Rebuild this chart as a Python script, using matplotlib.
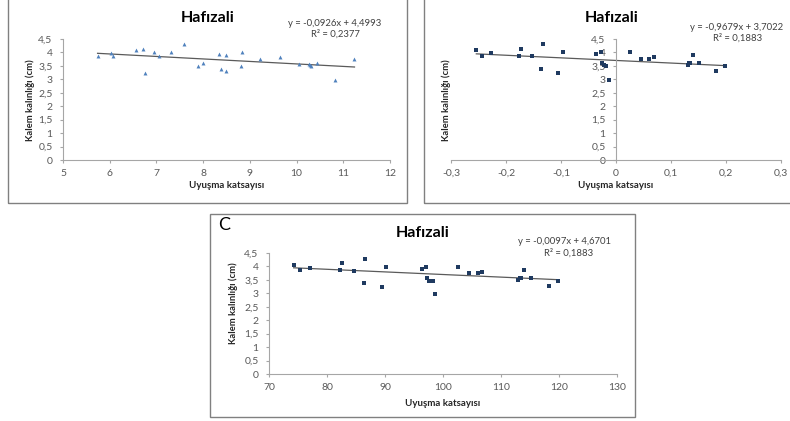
import numpy as np
import matplotlib
matplotlib.use('Agg')
import matplotlib.pyplot as plt
from matplotlib.patches import Rectangle
from matplotlib.ticker import FuncFormatter

plt.rcParams['font.family'] = ['Lato', 'DejaVu Sans']

# Panel A: Uyuşma katsayısı 5..12
a_x = [5.74, 6.02, 6.06, 6.57, 6.71, 6.75, 6.94, 7.06, 7.32, 7.59, 7.90, 7.99, 8.33, 8.39,
       8.48, 8.50, 8.80, 8.83, 9.21, 9.64, 10.06, 10.26, 10.29, 10.31, 10.43, 10.83, 11.24]
a_y = [3.88, 3.99, 3.88, 4.08, 4.14, 3.25, 4.00, 3.87, 4.02, 4.30, 3.50, 3.60, 3.93, 3.40,
       3.89, 3.30, 3.50, 4.00, 3.77, 3.83, 3.58, 3.58, 3.52, 3.50, 3.62, 2.99, 3.77]
a_fit = (-0.0926, 4.4993)
a_eq = 'y = -0,0926x + 4,4993'
a_r2 = 'R² = 0,2377'
a_xticks = [5, 6, 7, 8, 9, 10, 11, 12]

# Panel B: Uyuşma katsayısı -0.3..0.3
b_x = [-0.254, -0.244, -0.227, -0.176, -0.173, -0.153, -0.136, -0.133, -0.105, -0.096,
       -0.037, -0.028, -0.025, -0.022, -0.018, -0.013, 0.026, 0.046, 0.060, 0.069,
       0.130, 0.133, 0.135, 0.140, 0.151, 0.182, 0.199]
b_y = [4.09, 3.88, 3.98, 3.88, 4.14, 3.87, 3.40, 4.30, 3.25, 4.02,
       3.93, 4.00, 3.61, 3.52, 3.48, 2.99, 4.00, 3.77, 3.77, 3.83,
       3.53, 3.61, 3.62, 3.92, 3.61, 3.30, 3.50]
b_fit = (-0.9679, 3.7022)
b_eq = 'y = -0,9679x + 3,7022'
b_r2 = 'R² = 0,1883'
b_xticks = [-0.3, -0.2, -0.1, 0, 0.1, 0.2, 0.3]

# Panel C: Uyuşma katsayısı 70..130
c_x = [74.25, 75.4, 77.0, 82.2, 82.5, 84.7, 86.3, 86.6, 89.4, 90.2, 96.3, 97.1, 97.2, 97.6,
       98.2, 98.7, 102.6, 104.5, 106.0, 106.8, 112.9, 113.2, 113.5, 113.9, 115.1, 118.2, 119.9]
c_y = [4.07, 3.87, 3.95, 3.86, 4.12, 3.84, 3.37, 4.26, 3.22, 3.99, 3.89, 3.98, 3.57, 3.46,
       3.46, 2.98, 3.98, 3.74, 3.74, 3.81, 3.50, 3.56, 3.56, 3.88, 3.56, 3.26, 3.46]
c_fit = (-0.0097, 4.6701)
c_eq = 'y = -0,0097x + 4,6701'
c_r2 = 'R² = 0,1883'
c_xticks = [70, 80, 90, 100, 110, 120, 130]

yticks = [0, 0.5, 1, 1.5, 2, 2.5, 3, 3.5, 4, 4.5]
title = 'Hafızali'
xlabel = 'Uyuşma katsayısı'
ylabel = 'Kalem kalınlığı (cm)'

W, H = 790, 421
AXIS = '#a6a6a6'
TXT = '#595959'


def fx(px):
    return px / W


def fy(py):
    return 1 - py / H


def comma(v, pos):
    return f'{round(v, 3):g}'.replace('.', ',')


def panel(fig, box, plot, x, y, fit, eq, r2, xticks, marker, color,
          title_xy, eq_xy, r2_xy, xlab_xy, ylab_xy, spine_at_zero=False):
    bx0, by0, bx1, by1 = box
    fig.add_artist(Rectangle((fx(bx0), fy(by1)), (bx1 - bx0) / W, (by1 - by0) / H,
                             transform=fig.transFigure, fill=False, ec='#808080', lw=1.0))
    x0, x1, ytop, ybot = plot
    ax = fig.add_axes([fx(x0), fy(ybot), (x1 - x0) / W, (ybot - ytop) / H])
    ax.set_facecolor('none')
    ax.set_xlim(xticks[0], xticks[-1])
    ax.set_ylim(0, 4.5)
    ax.set_xticks(xticks)
    ax.set_yticks(yticks)
    ax.xaxis.set_major_formatter(FuncFormatter(comma))
    ax.yaxis.set_major_formatter(FuncFormatter(comma))
    for s in ['top', 'right']:
        ax.spines[s].set_visible(False)
    for s in ['left', 'bottom']:
        ax.spines[s].set_color(AXIS)
        ax.spines[s].set_linewidth(0.8)
    if spine_at_zero:
        ax.spines['left'].set_position(('data', 0))
    ax.tick_params(axis='both', colors=AXIS, labelcolor=TXT, labelsize=7.5,
                   length=2.5, width=0.8)
    ax.tick_params(axis='x', pad=4)
    ax.tick_params(axis='y', pad=5)

    xs = np.array([min(x), max(x)])
    ax.plot(xs, fit[0] * xs + fit[1], color='#5a5a5a', lw=0.9, zorder=2)
    ax.scatter(x, y, marker=marker, s=8, color=color, lw=0, zorder=3)

    fig.text(fx(title_xy[0]), fy(title_xy[1]), title, ha='center', va='center',
             fontsize=11.5, fontweight='bold', color='black')
    fig.text(fx(eq_xy[0]), fy(eq_xy[1]), eq, ha='center', va='center', fontsize=6.8, color='#404040')
    fig.text(fx(r2_xy[0]), fy(r2_xy[1]), r2, ha='center', va='center', fontsize=6.8, color='#404040')
    fig.text(fx(xlab_xy[0]), fy(xlab_xy[1]), xlabel, ha='center', va='center',
             fontsize=7, fontweight='bold', color='#262626')
    fig.text(fx(ylab_xy[0]), fy(ylab_xy[1]), ylabel, ha='center', va='center', rotation=90,
             fontsize=6.8, fontweight='bold', color='#262626')
    return ax


fig = plt.figure(figsize=(W / 100, H / 100), dpi=100)

panel(fig, (8, -3, 407, 203), (63, 390, 39, 160), a_x, a_y, a_fit, a_eq, a_r2, a_xticks,
      '^', '#4f81bd', (208, 18), (335, 23), (335, 34), (227, 186), (30, 100))

panel(fig, (424, -3, 802, 203), (451, 781, 39, 160), b_x, b_y, b_fit, b_eq, b_r2, b_xticks,
      's', '#1f3a60', (612, 18), (737, 27), (738, 38), (616, 186), (446, 100),
      spine_at_zero=True)

panel(fig, (210, 214, 635, 417), (269, 617, 253, 374), c_x, c_y, c_fit, c_eq, c_r2, c_xticks,
      's', '#1f3a60', (423, 233), (565, 242), (569, 253), (443, 403), (233, 303))

fig.text(fx(218), fy(225), 'C', ha='left', va='center', fontsize=13, color='black')

fig.savefig('out.png', dpi=100)
